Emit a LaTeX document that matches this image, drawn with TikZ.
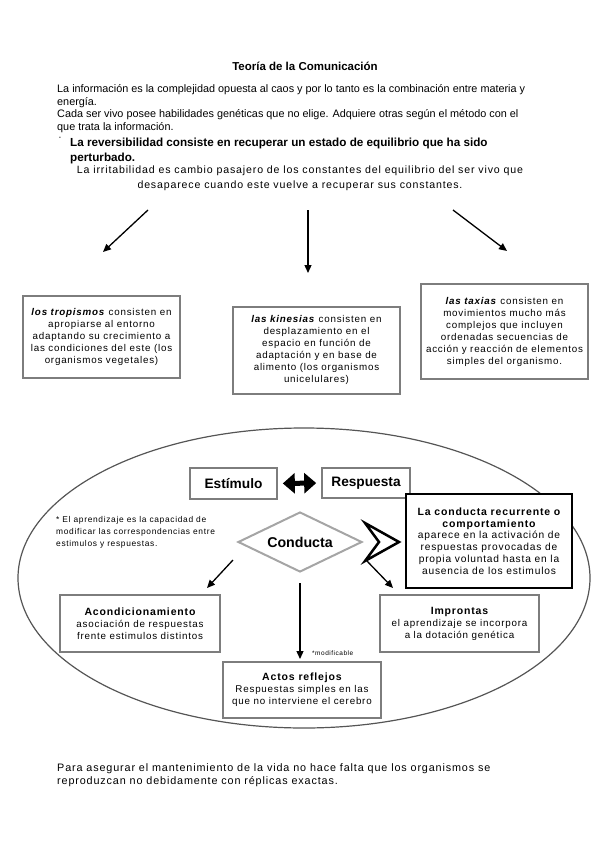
\documentclass[tikz,border=0pt]{standalone}
\usepackage{fontspec}
\setmainfont{Liberation Sans}
\newfontfamily\ancha{Liberation Sans}[LetterSpace=8]
\usetikzlibrary{arrows.meta,shapes.geometric}
\definecolor{bordegris}{RGB}{125,125,125}
\definecolor{rombogris}{RGB}{165,165,165}
\definecolor{elipsegris}{RGB}{85,85,85}
\newcommand{\titulocaja}[1]{{\fontsize{10.5}{13}\selectfont\ancha\bfseries #1}}

\begin{document}
\begin{tikzpicture}[x=1pt,y=-1pt,
		>={Triangle[length=8pt,width=7pt]},
		caja/.style={draw=bordegris,line width=2pt,align=center,inner sep=2pt,font=\fontsize{9.8}{12}\selectfont\ancha},
		flecha/.style={->,line width=1.3pt},
		texto/.style={anchor=north west,align=left,inner sep=0pt}]
		\useasboundingbox (0,0) rectangle (599,848);
		
		% encabezado
		\node[anchor=base,font=\fontsize{11.5}{13}\selectfont\bfseries] (titulo) at (305,71) {Teoría de la Comunicación};
		\node[texto,font=\fontsize{10.85}{12.5}\selectfont] (informacion) at (57,84.5) {La información es la complejidad opuesta al caos y por lo tanto es la combinación entre materia y\\energía.\\Cada ser vivo posee habilidades genéticas que no elige. Adquiere otras según el método con el\\que trata la información.};
		\node[anchor=base,inner sep=0pt] (punto) at (60,140) {·};
		\node[texto,font=\fontsize{11.7}{15}\selectfont\bfseries] (reversibilidad) at (70,137.5) {La reversibilidad consiste en recuperar un estado de equilibrio que ha sido\\perturbado.};
		\node[align=center,inner sep=0pt,font=\fontsize{10.6}{14.5}\selectfont\ancha] (irritabilidad) at (300,178.5) {La irritabilidad es cambio pasajero de los constantes del equilibrio del ser vivo que\\desaparece cuando este vuelve a recuperar sus constantes.};
		
		% tres respuestas
		\node[caja,minimum width=157pt,minimum height=82pt] (tropismos) at (101.5,337) {\textbf{\textit{los tropismos}} consisten en\\apropiarse al entorno\\adaptando su crecimiento a\\las condiciones del este (los\\organismos vegetales)};
		\node[caja,minimum width=167pt,minimum height=87pt] (kinesias) at (316.5,350) {\textbf{\textit{las kinesias}} consisten en\\desplazamiento en el\\espacio en función de\\adaptación y en base de\\alimento (los organismos\\unicelulares)};
		\node[caja,minimum width=167pt,minimum height=95pt] (taxias) at (504.5,331.5) {\textbf{\textit{las taxias}} consisten en\\movimientos mucho más\\complejos que incluyen\\ordenadas secuencias de\\acción y reacción de elementos\\simples del organismo.};
		
		\coordinate (izq) at (148,210);
		\coordinate (centro) at (308,210);
		\coordinate (der) at (453,210);
		\draw[flecha] (izq) -- (103,252);
		\draw[flecha] (centro) -- (308,273);
		\draw[flecha] (der) -- (507,251);
		
		% conducta
		\draw[elipsegris,line width=1.2pt] (304,578) ellipse [x radius=286,y radius=150];
		
		\node[draw=bordegris,line width=1.6pt,minimum width=87pt,minimum height=31pt,font=\fontsize{13.7}{15}\selectfont\bfseries] (estimulo) at (233.5,483.5) {Estímulo};
		\node[draw=bordegris,line width=1.6pt,minimum width=88pt,minimum height=30pt,font=\fontsize{13.7}{15}\selectfont\bfseries] (respuesta) at (366,483) {Respuesta};
		\draw[line width=5pt,{Triangle[length=12pt,width=20pt]}-{Triangle[length=12pt,width=20pt]},shorten <=5pt,shorten >=5pt] (estimulo.east) -- (respuesta.west);
		
		\node[diamond,draw=rombogris,line width=2pt,minimum width=124pt,minimum height=60pt,aspect=2,inner sep=0pt,font=\fontsize{14.2}{15}\selectfont\bfseries] (conducta) at (300,542) {Conducta};
		
		\node[draw=black,line width=2pt,minimum width=166pt,minimum height=94pt,align=center,inner sep=2pt,fill=white,font=\fontsize{10.2}{11.7}\selectfont\ancha] (recurrente) at (489,541) {\titulocaja{La conducta recurrente o}\\\titulocaja{comportamiento}\\aparece en la activación de\\respuestas provocadas de\\propia voluntad hasta en la\\ausencia de los estimulos};
		
		\draw[line width=2.5pt,line join=miter] (365,523) -- (399,542) -- (365,561) -- (379,542) -- cycle;
		
		\node[texto,font=\fontsize{8.4}{12}\selectfont\ancha] (nota) at (56,516.5) {* El aprendizaje es la capacidad de\\modificar las correspondencias entre\\estimulos y respuestas.};
		
		\node[caja,minimum width=160pt,minimum height=57pt] (acondicionamiento) at (140,623.5) {\titulocaja{Acondicionamiento}\\asociación de respuestas\\frente estimulos distintos};
		\node[caja,minimum width=159pt,minimum height=57pt] (improntas) at (459.5,623.5) {\titulocaja{Improntas}\\el aprendizaje se incorpora\\a la dotación genética};
		\node[caja,minimum width=158pt,minimum height=56pt] (reflejos) at (302,690) {\titulocaja{Actos reflejos}\\Respuestas simples en las\\que no interviene el cerebro};
		
		\coordinate (salidaizq) at (233,560);
		\coordinate (salidader) at (366,560);
		\draw[flecha] (salidaizq) -- (207,588);
		\draw[flecha] (salidader) -- (393,588);
		\draw[flecha,shorten <=10pt,shorten >=2pt] (conducta.south) -- (conducta.south |- reflejos.north);
		\node[anchor=west,inner sep=0pt,font=\fontsize{6.5}{7}\selectfont\ancha] (modificable) at (312,653) {*modificable};
		
		% cierre
		\node[texto,font=\fontsize{10.8}{13}\selectfont\ancha] (vida) at (57,763) {Para asegurar el mantenimiento de la vida no hace falta que los organismos se\\reproduzcan no debidamente con réplicas exactas.};
	\end{tikzpicture}
\end{document}
